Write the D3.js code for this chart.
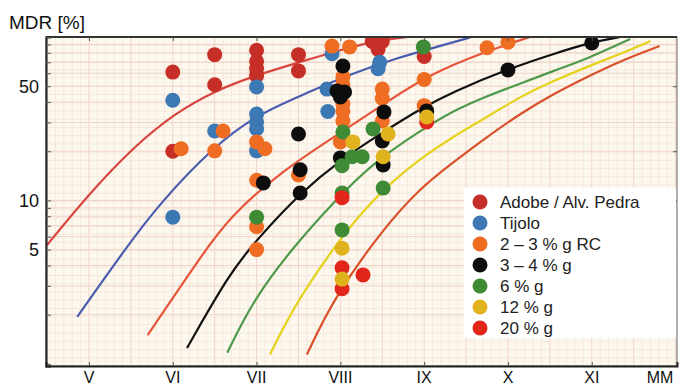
<!DOCTYPE html>
<html>
<head>
<meta charset="utf-8">
<script src="https://cdn.jsdelivr.net/npm/d3@7"></script>
<style>
  body { margin: 0; background: #fff; }
  svg { display: block; font-family: "Liberation Sans", Arial, sans-serif; }
</style>
</head>
<body>
<svg id="chart" width="679" height="388"></svg>
<script>
// intensity ticks (MM scale)
const xTickValues = [5, 6, 7, 8, 9, 10, 11];
const xTickLabels = ['V', 'VI', 'VII', 'VIII', 'IX', 'X', 'XI'];
const yTickLabels = [5, 10, 50];

const categories = ['Adobe / Alv. Pedra', 'Tijolo', '2 – 3 % g RC', '3 – 4 % g', '6 % g', '12 % g', '20 % g'];

// vulnerability curves, [intensity, MDR %]
const curveAdobe = [[4.50, 5.34], [5.01, 11.1], [5.53, 21.2], [6.03, 34.3], [6.50, 46.8], [7.0, 58.6], [7.52, 70.3], [8.0, 83.3], [8.41, 94.5], [8.8, 100]];
const curveTijolo = [[4.86, 1.94], [5.45, 5.2], [5.85, 9.66], [6.48, 21.2], [7.0, 33.3], [7.52, 43.6], [8.12, 59.4], [8.71, 75.4], [9.19, 88.1], [9.55, 99.3]];
const curveRC = [[5.70, 1.5], [6.33, 4.51], [6.68, 7.93], [7.28, 14.9], [8.0, 25.9], [8.59, 41.2], [9.07, 59.4], [9.75, 82.1], [10.26, 100]];
const curve34 = [[6.17, 1.25], [6.68, 3.6], [7.0, 5.73], [7.52, 11.1], [8.0, 17.7], [8.51, 26.2], [8.95, 36.3], [9.34, 46.1], [10.0, 63.7], [10.54, 78.7], [11.0, 93.2], [11.34, 100]];
const curve6 = [[6.65, 1.17], [6.96, 2.46], [7.43, 5.13], [7.91, 9.66], [8.39, 17.0], [8.95, 26.6], [9.34, 35.3], [9.75, 43.6], [10.14, 51.6], [10.54, 62.0], [10.94, 73.3], [11.46, 97.2]];
const curve12 = [[7.16, 1.14], [7.48, 2.46], [8.20, 8.15], [8.68, 13.9], [8.95, 17.9], [9.34, 24.5], [9.75, 32.4], [10.14, 43.0], [10.54, 53.8], [10.94, 65.6], [11.34, 78.7], [11.70, 94.5]];
const curve20 = [[7.60, 1.14], [7.91, 2.46], [8.47, 6.33], [8.95, 11.9], [9.34, 17.0], [9.75, 24.5], [10.14, 33.8], [10.54, 44.8], [10.94, 56.9], [11.34, 71.3], [11.81, 88.1]];

// observed damage points, [intensity, MDR %]
const ptsAdobe = [[6.0, 61], [6.5, 78], [6.5, 51], [7.0, 83], [7.0, 71], [7.0, 64], [7.0, 58], [7.5, 78], [7.5, 62], [6.0, 20], [8.38, 94], [8.5, 94], [8.45, 84], [9.0, 76]];
const ptsTijolo = [[6.0, 41], [6.0, 7.9], [6.5, 26.6], [7.0, 49.5], [7.0, 33.8], [7.0, 30.2], [7.0, 27.4], [7.0, 20.1], [7.9, 79], [7.84, 48], [7.85, 35], [8.47, 70], [8.45, 64]];
const ptsRC = [[6.1, 20.7], [6.6, 26.6], [6.5, 20.1], [7.0, 22.8], [7.1, 20.7], [7.0, 13.3], [7.0, 6.9], [7.0, 5.0], [7.5, 14.3], [7.9, 88], [8.11, 87], [8.03, 57], [8.03, 51], [8.03, 39], [8.03, 35], [8.03, 30.6], [8.0, 22.8], [8.5, 48], [8.5, 42], [8.5, 30.6], [9.0, 55], [9.0, 38], [9.75, 86], [10.0, 93]];
const pts34 = [[7.08, 12.8], [7.5, 25.5], [7.52, 15.4], [7.52, 11.1], [8.03, 66.5], [7.96, 46.8], [8.05, 46.1], [8.0, 43], [8.52, 34.8], [8.5, 23.1], [8.51, 16.5], [8.0, 18.2], [9.03, 35.3], [10.0, 62.9], [11.0, 91.9]];
const pts6 = [[7.0, 7.9], [8.03, 26.2], [8.39, 27.4], [8.14, 18.5], [8.26, 18.5], [8.02, 16.3], [8.51, 11.9], [8.02, 11.1], [8.02, 6.6], [8.99, 87]];
const pts20 = [[8.02, 10.4], [8.02, 3.87], [8.02, 2.88], [8.27, 3.5], [9.03, 30.2]];
const pts12 = [[8.15, 22.8], [8.57, 25.5], [8.51, 18.5], [9.03, 32.4], [8.02, 5.1], [8.02, 3.3]];

const dotColors = ['#c62f27', '#3c78b4', '#ee6d22', '#0d0d0d', '#3f8a35', '#e0b21d', '#e3261c'];
const curveColors = ['#d9463f', '#4a5cae', '#e6553a', '#111111', '#4f9a4a', '#e6d21c', '#d9512b'];

const margin = {top: 37, right: 2, bottom: 22, left: 46};
const width = 679, height = 388;
const innerW = width - margin.left - margin.right;
const innerH = height - margin.top - margin.bottom;

const svg = d3.select('#chart');

const x = d3.scaleLinear()
  .domain([4.487, 12.017])
  .range([margin.left, margin.left + innerW]);

const y = d3.scaleLog()
  .domain([0.97, 100])
  .range([margin.top + innerH, margin.top]);

// graph paper: fine uniform ruling plus log decade lines
const paper = d3.scaleLinear()
  .domain([0, 40])
  .range([margin.top + innerH, margin.top]);

svg.append('rect')
  .attr('x', margin.left).attr('y', margin.top)
  .attr('width', innerW).attr('height', innerH)
  .attr('fill', '#fdf8ee');

const grid = svg.append('g');
const fineX = d3.range(44, 121).map(d => d / 10).filter(d => d > 4.49 && d < 12.01);
grid.selectAll('line.vx')
  .data(fineX)
  .enter().append('line')
  .attr('x1', d => x(d)).attr('x2', d => x(d))
  .attr('y1', margin.top).attr('y2', margin.top + innerH)
  .attr('stroke', d => Math.abs(d * 2 - Math.round(d * 2)) < 1e-6 ? '#eed3c6' : '#f5e7dd')
  .attr('stroke-width', 1);

grid.selectAll('line.hp')
  .data(d3.range(1, 40))
  .enter().append('line')
  .attr('x1', margin.left).attr('x2', margin.left + innerW)
  .attr('y1', d => paper(d)).attr('y2', d => paper(d))
  .attr('stroke', '#f5e7dd')
  .attr('stroke-width', 1);

grid.selectAll('line.hy')
  .data(y.ticks().filter(d => d > 1 && d < 100))
  .enter().append('line')
  .attr('x1', margin.left).attr('x2', margin.left + innerW)
  .attr('y1', d => y(d)).attr('y2', d => y(d))
  .attr('stroke', '#eed3c6')
  .attr('stroke-width', 1);

// curves
svg.append('clipPath').attr('id', 'plot')
  .append('rect')
  .attr('x', margin.left).attr('y', margin.top)
  .attr('width', innerW).attr('height', innerH);

const line = d3.line()
  .x(d => x(d[0]))
  .y(d => y(d[1]))
  .curve(d3.curveBasis);

const curves = [curveAdobe, curveTijolo, curveRC, curve34, curve6, curve12, curve20];
svg.append('g')
  .attr('clip-path', 'url(#plot)')
  .selectAll('path')
  .data(curves)
  .enter().append('path')
  .attr('d', line)
  .attr('fill', 'none')
  .attr('stroke', (d, i) => curveColors[i])
  .attr('stroke-width', 2.2);

// points, drawn in layer order
const layers = [
  {pts: ptsAdobe, c: 0}, {pts: ptsTijolo, c: 1}, {pts: ptsRC, c: 2}, {pts: pts34, c: 3},
  {pts: pts6, c: 4}, {pts: pts20, c: 6}, {pts: pts12, c: 5}
];
const dots = svg.append('g').attr('clip-path', 'url(#plot)');
layers.forEach(l => {
  dots.append('g')
    .selectAll('circle')
    .data(l.pts)
    .enter().append('circle')
    .attr('cx', d => x(d[0]))
    .attr('cy', d => y(d[1]))
    .attr('r', 7.5)
    .attr('fill', dotColors[l.c]);
});

// frame and axes
svg.append('rect')
  .attr('x', margin.left).attr('y', margin.top)
  .attr('width', innerW).attr('height', innerH)
  .attr('fill', 'none')
  .attr('stroke', '#666')
  .attr('stroke-width', 1);

svg.append('line')
  .attr('x1', margin.left).attr('x2', margin.left + innerW)
  .attr('y1', margin.top).attr('y2', margin.top)
  .attr('stroke', '#333').attr('stroke-width', 2);

const yAxis = d3.axisRight(y)
  .tickValues(y.ticks().filter(d => d >= 1))
  .tickSize(5)
  .tickFormat('');
svg.append('g')
  .attr('transform', `translate(${margin.left},0)`)
  .call(yAxis)
  .call(g => g.select('.domain').attr('stroke', '#222').attr('stroke-width', 2))
  .call(g => g.selectAll('.tick line').attr('stroke', '#555'));

svg.append('g')
  .attr('transform', `translate(${margin.left + innerW},0)`)
  .call(d3.axisLeft(y).tickValues([10, 20, 50]).tickSize(4).tickFormat(''))
  .call(g => g.select('.domain').remove())
  .call(g => g.selectAll('.tick line').attr('stroke', '#555'));

svg.append('g')
  .selectAll('text')
  .data(yTickLabels)
  .enter().append('text')
  .attr('x', 39)
  .attr('y', d => y(d))
  .attr('dy', '0.36em')
  .attr('text-anchor', 'end')
  .attr('font-size', 18)
  .attr('fill', '#111')
  .text(d => d);

const xAxis = d3.axisTop(x)
  .tickValues(xTickValues)
  .tickSize(4)
  .tickFormat('');
svg.append('g')
  .attr('transform', `translate(0,${margin.top + innerH})`)
  .call(xAxis)
  .call(g => g.select('.domain').attr('stroke', '#222').attr('stroke-width', 2))
  .call(g => g.selectAll('.tick line').attr('stroke', '#555'));

svg.append('g')
  .attr('transform', `translate(0,${margin.top})`)
  .call(d3.axisBottom(x).tickValues(xTickValues).tickSize(4).tickFormat(''))
  .call(g => g.select('.domain').remove())
  .call(g => g.selectAll('.tick line').attr('stroke', '#555'));

svg.append('g')
  .selectAll('text')
  .data(xTickValues)
  .enter().append('text')
  .attr('x', d => x(d))
  .attr('y', 383)
  .attr('text-anchor', 'middle')
  .attr('font-size', 16)
  .attr('fill', '#111')
  .text((d, i) => xTickLabels[i]);

svg.append('text')
  .attr('x', 660)
  .attr('y', 383)
  .attr('text-anchor', 'middle')
  .attr('font-size', 16)
  .attr('fill', '#111')
  .text('MM');

svg.append('text')
  .attr('x', 9)
  .attr('y', 29)
  .attr('font-size', 19)
  .attr('fill', '#111')
  .text('MDR [%]');

// legend
const legend = svg.append('g');
legend.append('rect')
  .attr('x', 464).attr('y', 188)
  .attr('width', 212).attr('height', 150)
  .attr('fill', '#ffffff');

const row = legend.selectAll('g.row')
  .data(categories)
  .enter().append('g')
  .attr('transform', (d, i) => `translate(480,${202 + i * 21})`);
row.append('circle')
  .attr('r', 7.5)
  .attr('fill', (d, i) => dotColors[i]);
row.append('text')
  .attr('x', 20)
  .attr('dy', '0.36em')
  .attr('font-size', 17)
  .attr('fill', '#222')
  .text(d => d);
</script>
</body>
</html>
